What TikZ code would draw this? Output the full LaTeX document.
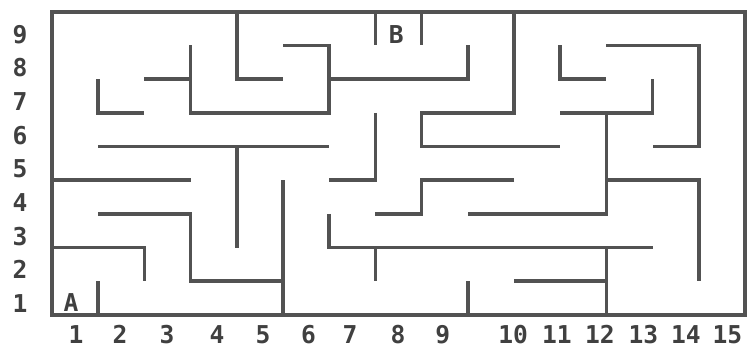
\documentclass[tikz,border=0pt]{standalone}
\usepackage{fontspec}
\setmainfont{DejaVu Sans Mono}
\usepackage{tikz}
\tikzset{wall/.style={line width=2.6pt,draw=black!68},
  lbl/.style={font=\bfseries\fontsize{17.5}{18}\selectfont,text=black!75,inner sep=0pt,anchor=base}}

\begin{document}
\begin{tikzpicture}[x=1.155cm,y=0.8425cm]
\useasboundingbox (-1.3cm,-0.85cm) rectangle (17.4cm,7.875cm);
% frame
\draw[wall] (0,0) rectangle (15,9);
% walls, upper part
\draw[wall] (4,9)--(4,7)--(5,7);
\draw[wall] (5,8)--(6,8)--(6,6)--(3,6)--(3,8);
\draw[wall] (2,7)--(3,7);
\draw[wall] (1,7)--(1,6)--(2,6);
\draw[wall] (6,7)--(9,7)--(9,8);
\draw[wall] (7,9)--(7,8);
\draw[wall] (8,9)--(8,8);
\draw[wall] (10,9)--(10,6)--(8,6)--(8,5)--(11,5);
\draw[wall] (11,8)--(11,7)--(12,7);
\draw[wall] (12,8)--(14,8)--(14,5)--(13,5);
\draw[wall] (13,7)--(13,6)--(11,6);
\draw[wall] (12,6)--(12,3)--(9,3);
\draw[wall] (12,4)--(14,4)--(14,1);
\draw[wall] (10,4)--(8,4)--(8,3)--(7,3);
\draw[wall] (7,6)--(7,4)--(6,4);
\draw[wall] (1,5)--(6,5);
\draw[wall] (4,5)--(4,2);
% walls, lower part
\draw[wall] (0,4)--(3,4);
\draw[wall] (1,3)--(3,3)--(3,1)--(5,1);
\draw[wall] (5,4)--(5,0);
\draw[wall] (0,2)--(2,2)--(2,1);
\draw[wall] (1,1)--(1,0);
\draw[wall] (6,3)--(6,2)--(13,2);
\draw[wall] (7,2)--(7,1);
\draw[wall] (9,1)--(9,0);
\draw[wall] (10,1)--(12,1);
\draw[wall] (12,2)--(12,0);
% start and goal
\node[lbl] (start) at (0.41,0.09) {A};
\node[lbl] (goal) at (7.45,8.07) {B};
% numbering
\foreach \k/\x in {1/0.52,2/1.47,3/2.49,4/3.57,5/4.57,6/5.55,7/6.45,8/7.49,9/8.46,
    10/9.98,11/10.93,12/11.86,13/12.8,14/13.72,15/14.62}
  \node[lbl] (col\k) at (\x,-0.86) {\k};
\foreach \k in {1,...,9}
  \node[lbl] (row\k) at (-0.69,\k-0.93) {\k};
\end{tikzpicture}
\end{document}
